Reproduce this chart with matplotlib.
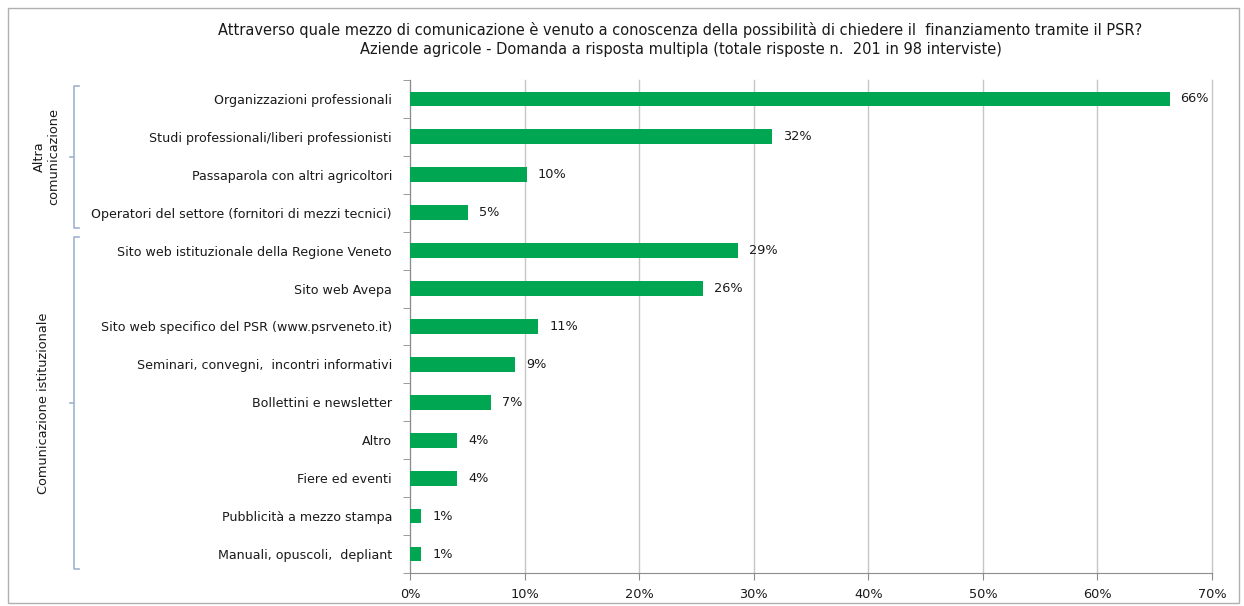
import matplotlib
matplotlib.use("Agg")
import matplotlib.pyplot as plt
import matplotlib.transforms as mtransforms
from matplotlib.patches import Rectangle

# data (share of 98 interviews, %)
categories = [
    "Organizzazioni professionali",
    "Studi professionali/liberi professionisti",
    "Passaparola con altri agricoltori",
    "Operatori del settore (fornitori di mezzi tecnici)",
    "Sito web istituzionale della Regione Veneto",
    "Sito web Avepa",
    "Sito web specifico del PSR (www.psrveneto.it)",
    "Seminari, convegni,  incontri informativi",
    "Bollettini e newsletter",
    "Altro",
    "Fiere ed eventi",
    "Pubblicità a mezzo stampa",
    "Manuali, opuscoli,  depliant",
]
values = [66.3, 31.6, 10.2, 5.1, 28.6, 25.6, 11.2, 9.2, 7.1, 4.1, 4.1, 1.0, 1.0]
group_names = ["Altra\ncomunicazione", "Comunicazione istituzionale"]
group_sizes = [4, 9]
xticks = [0, 10, 20, 30, 40, 50, 60, 70]

title = ("Attraverso quale mezzo di comunicazione è venuto a conoscenza della possibilità di chiedere il  finanziamento tramite il PSR?\n"
         "Aziende agricole - Domanda a risposta multipla (totale risposte n.  201 in 98 interviste)")

GREEN = "#00A651"
GRID = "#c6c6c6"
AXIS = "#8c8c8c"
TXT = "#1a1a1a"
BRACKET = "#9fb3cf"

plt.rcParams["font.family"] = ["DejaVu Sans"]
fig = plt.figure(figsize=(12.44, 6.06), dpi=100)
ax = fig.add_axes([0.3296, 0.0545, 0.6447, 0.8135])

y = list(range(len(categories)))
ax.barh(y, values, height=0.39, color=GREEN, zorder=3)
for yi, v in zip(y, values):
    ax.text(v + 0.95, yi, f"{round(v)}%", va="center", ha="left", fontsize=9.3, color=TXT)

ax.set_xlim(0, 70)
ax.set_ylim(len(categories) - 0.5, -0.5)
ax.set_xticks(xticks)
ax.set_xticklabels([f"{t}%" for t in xticks], fontsize=9.3, color=TXT)
ax.set_yticks(y)
ax.set_yticklabels(categories, fontsize=9.1, color=TXT)
ax.tick_params(axis="y", length=0, pad=13)
ax.tick_params(axis="x", length=5, color=AXIS, pad=6)
# boundary ticks between categories
ax.set_yticks([i - 0.5 for i in range(len(categories) + 1)], minor=True)
ax.tick_params(axis="y", which="minor", length=5, color=AXIS)

ax.grid(axis="x", color=GRID, linewidth=1, zorder=0)
for gl in ax.xaxis.get_gridlines():
    gl.set_clip_on(False)
for s in ["top", "right"]:
    ax.spines[s].set_visible(False)
ax.spines["left"].set_color(AXIS)
ax.spines["bottom"].set_color(AXIS)

# group brackets to the left of the category labels
trans = mtransforms.blended_transform_factory(ax.transAxes, ax.transData)
bx = -0.4185
hook = 0.006
start = 0
label_x = [-0.453, -0.457]
for name, size, lx in zip(group_names, group_sizes, label_x):
    y0 = start - 0.35
    y1 = start + size - 0.6
    ax.plot([bx + hook, bx, bx, bx + hook], [y0, y0, y1, y1], color=BRACKET,
            lw=1.2, transform=trans, clip_on=False)
    ym = (y0 + y1) / 2
    ax.plot([bx, bx - hook], [ym, ym], color=BRACKET, lw=1.2, transform=trans, clip_on=False)
    ax.text(lx, ym, name, rotation=90, ha="center", va="center", fontsize=9.3,
            color=TXT, transform=trans, linespacing=1.1)
    start += size

fig.text(0.547, 0.935, title, ha="center", va="center", fontsize=10.5, color=TXT, linespacing=1.35)

# light frame around the chart
fig.patches.append(Rectangle((0.0065, 0.005), 0.9895, 0.982, transform=fig.transFigure,
                             fill=False, edgecolor="#b0b0b0", linewidth=1))

plt.savefig("out.png", dpi=100)
plt.close()
